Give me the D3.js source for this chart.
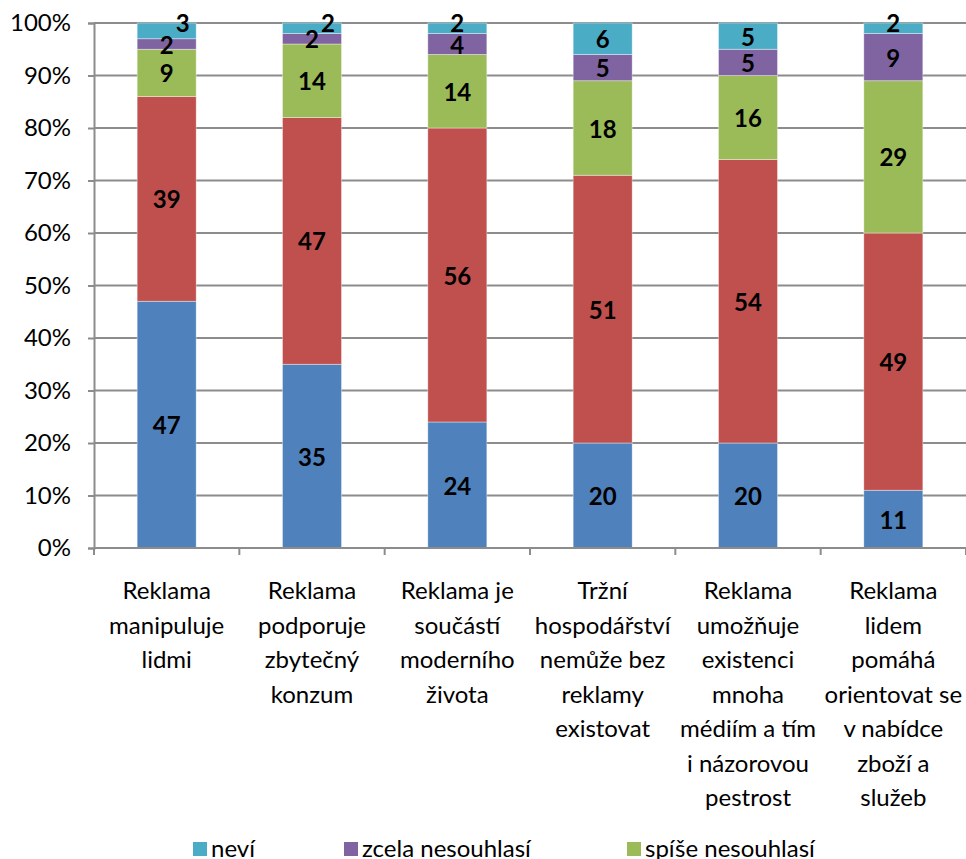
<!DOCTYPE html>
<html>
<head>
<meta charset="utf-8">
<script src="https://cdn.jsdelivr.net/npm/d3@7"></script>
<style>
  body { margin: 0; background: #fff; }
  svg { display: block; }
  text { font-family: Lato, "Open Sans", sans-serif; fill: #000; }
</style>
</head>
<body>
<svg id="chart" width="966" height="859"></svg>
<script>
// Statements about advertising (x-axis categories, "\n" marks line breaks)
const categories = [
  "Reklama\nmanipuluje\nlidmi",
  "Reklama\npodporuje\nzbytečný\nkonzum",
  "Reklama je\nsoučástí\nmoderního\nživota",
  "Tržní\nhospodářství\nnemůže bez\nreklamy\nexistovat",
  "Reklama\numožňuje\nexistenci\nmnoha\nmédiím a tím\ni názorovou\npestrost",
  "Reklama\nlidem\npomáhá\norientovat se\nv nabídce\nzboží a\nslužeb"
];

// Answer shares in percent, stacked bottom to top
const rozhodneSouhlasi = [47, 35, 24, 20, 20, 11];
const spiseSouhlasi    = [39, 47, 56, 51, 54, 49];
const spiseNesouhlasi  = [9, 14, 14, 18, 16, 29];
const zcelaNesouhlasi  = [2, 2, 4, 5, 5, 9];
const nevi             = [3, 2, 2, 6, 5, 2];

const seriesNames = ["rozhodně souhlasí", "spíše souhlasí", "spíše nesouhlasí", "zcela nesouhlasí", "neví"];
const seriesValues = [rozhodneSouhlasi, spiseSouhlasi, spiseNesouhlasi, zcelaNesouhlasi, nevi];
const seriesColors = ["#4F81BD", "#C0504D", "#9BBB59", "#8064A2", "#4BACC6"];

// Legend entries visible in the bottom row
const legendItems = ["neví", "zcela nesouhlasí", "spíše nesouhlasí"];

const yTicks = [0, 10, 20, 30, 40, 50, 60, 70, 80, 90, 100];

const svg = d3.select("#chart");
const plot = { left: 94, right: 966, top: 23, bottom: 548 };

const x = d3.scaleBand()
  .domain(d3.range(categories.length))
  .range([plot.left, plot.right])
  .paddingInner(0).paddingOuter(0);
const barW = x.bandwidth() * 0.406;

const y = d3.scaleLinear().domain([0, 100]).range([plot.bottom, plot.top]);

// Gridlines
svg.append("g")
  .selectAll("line")
  .data(yTicks)
  .join("line")
  .attr("x1", plot.left).attr("x2", plot.right)
  .attr("y1", d => y(d)).attr("y2", d => y(d))
  .attr("stroke", "#8c8c8c").attr("stroke-width", 2);

// Y axis
const yAxis = svg.append("g")
  .attr("transform", `translate(${plot.left},0)`)
  .call(d3.axisLeft(y).tickValues(yTicks).tickFormat(d => d + "%").tickSize(6).tickPadding(17));
yAxis.select(".domain").attr("stroke", "#8c8c8c").attr("stroke-width", 2);
yAxis.selectAll(".tick line").attr("stroke", "#8c8c8c").attr("stroke-width", 2);
yAxis.selectAll(".tick text")
  .style("font-family", "Lato, sans-serif")
  .style("font-size", "24px")
  .attr("fill", "#000");

// Stacked data
const rows = categories.map((c, i) => {
  const r = { i };
  seriesNames.forEach((s, k) => { r[s] = seriesValues[k][i]; });
  return r;
});
const stacked = d3.stack().keys(seriesNames)(rows);

// Bars
const layers = svg.append("g")
  .selectAll("g")
  .data(stacked)
  .join("g")
  .attr("fill", (d, k) => seriesColors[k]);

layers.selectAll("rect")
  .data(d => d)
  .join("rect")
  .attr("x", d => x(d.data.i) + (x.bandwidth() - barW) / 2)
  .attr("width", barW)
  .attr("y", d => y(d[1]))
  .attr("height", d => y(d[0]) - y(d[1]))
  .attr("stroke", "#ffffff").attr("stroke-opacity", 0.5).attr("stroke-width", 0.75);

// X axis line with category boundary ticks
svg.append("line")
  .attr("x1", plot.left).attr("x2", plot.right)
  .attr("y1", plot.bottom).attr("y2", plot.bottom)
  .attr("stroke", "#8c8c8c").attr("stroke-width", 2);
svg.append("g")
  .selectAll("line")
  .data(d3.range(categories.length + 1))
  .join("line")
  .attr("x1", i => plot.left + i * x.bandwidth())
  .attr("x2", i => plot.left + i * x.bandwidth())
  .attr("y1", plot.bottom).attr("y2", plot.bottom + 7)
  .attr("stroke", "#8c8c8c").attr("stroke-width", 2);

// Value labels centred in each segment; tiny top segments are nudged to avoid overlap
const labels = [];
stacked.forEach((layer, k) => {
  layer.forEach(d => {
    const v = d[1] - d[0];
    let cx = x(d.data.i) + x.bandwidth() / 2;
    let cy = y((d[0] + d[1]) / 2);
    if (k === seriesNames.length - 1 && v <= 3) {
      cy = Math.min(cy, y(100) - 1);
      const below = seriesValues[k - 1][d.data.i];
      if (below <= 2) cx += 16;
    }
    labels.push({ v, cx, cy });
  });
});
svg.append("g")
  .selectAll("text")
  .data(labels)
  .join("text")
  .attr("x", d => d.cx)
  .attr("y", d => d.cy)
  .attr("text-anchor", "middle")
  .attr("dominant-baseline", "central")
  .style("font-size", "24px")
  .style("font-weight", "bold")
  .text(d => d.v);

// Category labels
const catG = svg.append("g");
categories.forEach((c, i) => {
  const t = catG.append("text")
    .attr("text-anchor", "middle")
    .style("font-size", "24px");
  c.split("\n").forEach((line, j) => {
    t.append("tspan")
      .attr("x", x(i) + x.bandwidth() / 2)
      .attr("y", 599 + j * 34.5)
      .text(line);
  });
});

// Legend
const legendX = [193, 344, 627];
const leg = svg.append("g");
legendItems.forEach((name, n) => {
  const k = seriesNames.indexOf(name);
  leg.append("rect")
    .attr("x", legendX[n]).attr("y", 842)
    .attr("width", 14).attr("height", 14)
    .attr("fill", seriesColors[k]);
  leg.append("text")
    .attr("x", legendX[n] + 18).attr("y", 857)
    .style("font-size", "24px")
    .text(name);
});
</script>
</body>
</html>
